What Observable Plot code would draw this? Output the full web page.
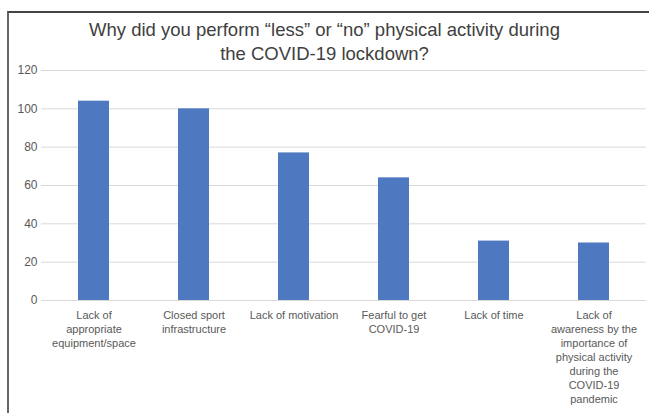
<!DOCTYPE html>
<html>
<head>
<meta charset="utf-8">
<script src="https://cdn.jsdelivr.net/npm/d3@7"></script>
<script src="https://cdn.jsdelivr.net/npm/@observablehq/plot@0.6"></script>
<style>
  html, body { margin: 0; padding: 0; background: #fff; }
  #frame { position: absolute; left: 7px; top: 11px; width: 642px; height: 402px;
           border-left: 2px solid #666; border-top: 2px solid #444; box-sizing: border-box; }
  #title { position: absolute; left: 0; top: 18px; width: 649px; text-align: center;
           font-family: "Liberation Sans", Arial, sans-serif; font-size: 18.5px; line-height: 24px; color: #404040; }
  #chart { position: absolute; left: 0; top: 62px; }
</style>
</head>
<body>
<div id="frame"></div>
<div id="title">Why did you perform “less” or “no” physical activity during<br>the COVID-19 lockdown?</div>
<div id="chart"></div>
<script>
const categories = [
  "Lack of\nappropriate\nequipment/space",
  "Closed sport\ninfrastructure",
  "Lack of motivation",
  "Fearful to get\nCOVID-19",
  "Lack of time",
  "Lack of\nawareness by the\nimportance of\nphysical activity\nduring the\nCOVID-19\npandemic"
];
const values = [104, 100, 77, 64, 31, 30];
const yTicks = [0, 20, 40, 60, 80, 100, 120];

const data = categories.map((c, i) => ({category: c, value: values[i]}));

const plot = Plot.plot({
  width: 649,
  height: 351,
  marginTop: 8,
  marginBottom: 113,
  marginLeft: 41,
  marginRight: 3,
  style: {fontFamily: "'Liberation Sans', Arial, sans-serif", fontSize: "12px", color: "#595959", background: "transparent"},
  x: {domain: categories, paddingInner: 0.69, paddingOuter: 0.345, label: null},
  y: {domain: [0, 120], ticks: yTicks, label: null},
  marks: [
    Plot.gridY(yTicks, {stroke: "#d9d9d9", strokeOpacity: 1, strokeWidth: 1}),
    Plot.barY(data, {x: "category", y: "value", fill: "#4e79c0"}),
    Plot.axisY(yTicks, {tickSize: 0, tickPadding: 4, fontSize: 12, fill: "#595959"}),
    Plot.axisX({tickSize: 0, tickPadding: 9, fontSize: 11, fill: "#595959", lineHeight: 1.27, textAnchor: "middle"})
  ]
});
document.getElementById("chart").appendChild(plot);
</script>
</body>
</html>
